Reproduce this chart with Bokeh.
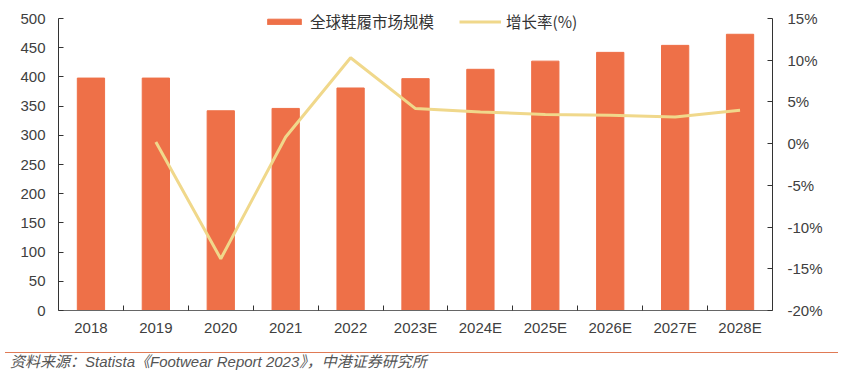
import numpy as np
from bokeh.plotting import figure
from bokeh.layouts import column
from bokeh.models import Range1d, LinearAxis, FixedTicker, PrintfTickFormatter, Div
from bokeh.embed import file_html
from bokeh.resources import INLINE

# ---- data ----
categories = ["2018", "2019", "2020", "2021", "2022", "2023E",
              "2024E", "2025E", "2026E", "2027E", "2028E"]
market_size = [398, 398, 342, 346, 381, 397, 413, 427, 442, 454, 473]
growth_pct = [None, 0.2, -13.8, 0.8, 10.3, 4.2, 3.8, 3.5, 3.4, 3.2, 4.0]
left_ticks = [0, 50, 100, 150, 200, 250, 300, 350, 400, 450, 500]
right_ticks = [-20, -15, -10, -5, 0, 5, 10, 15]
bar_label = "全球鞋履市场规模"
line_label = "增长率(%)"
source_text = "资料来源：Statista《Footwear Report 2023》，中港证券研究所"

BAR_COLOR = "#EE7048"
LINE_COLOR = "#F0D88B"
TEXT_COLOR = "#404040"
FONT = "Liberation Sans"

n = len(categories)
xc = np.arange(n) + 0.5

# frame is a little taller than the axes (room for the legend inside it)
left_lo, left_hi = left_ticks[0], left_ticks[-1]
right_lo, right_hi = right_ticks[0], right_ticks[-1]
extra = 302 / 292
p = figure(width=841, height=345, output_backend="svg", toolbar_location=None,
           x_range=Range1d(0, n),
           y_range=Range1d(left_lo, left_lo + (left_hi - left_lo) * extra),
           min_border_left=58, min_border_right=69, min_border_top=8,
           min_border_bottom=35)
p.extra_y_ranges = {"g": Range1d(right_lo, right_lo + (right_hi - right_lo) * extra)}
p.outline_line_color = None
p.xgrid.visible = False
p.ygrid.visible = False

p.vbar(x=xc, top=market_size, width=0.42, color=BAR_COLOR, legend_label=bar_label)
gx = [x for x, g in zip(xc, growth_pct) if g is not None]
gy = [g for g in growth_pct if g is not None]
p.line(gx, gy, y_range_name="g", line_color=LINE_COLOR, line_width=3,
       legend_label=line_label)

# x axis
xa = p.xaxis[0]
xa.ticker = FixedTicker(ticks=list(xc), minor_ticks=list(range(1, n)))
xa.major_label_overrides = {float(x): c for x, c in zip(xc, categories)}
xa.major_tick_in = 0
xa.major_tick_out = 0
xa.minor_tick_in = 5
xa.minor_tick_out = 0
xa.minor_tick_line_color = "#333333"
xa.axis_line_color = "#666666"
xa.major_label_standoff = 8

# left axis
ya = p.yaxis[0]
ya.ticker = FixedTicker(ticks=left_ticks)
ya.bounds = (left_lo, left_hi)
ya.minor_tick_line_color = None
ya.major_tick_in = 5
ya.major_tick_out = 0
ya.axis_line_color = "#333333"
ya.major_tick_line_color = "#333333"
ya.major_label_standoff = 13

ra = LinearAxis(y_range_name="g", ticker=FixedTicker(ticks=right_ticks),
                formatter=PrintfTickFormatter(format="%d%%"),
                bounds=(right_lo, right_hi))
ra.minor_tick_line_color = None
ra.major_tick_in = 5
ra.major_tick_out = 0
ra.axis_line_color = "#333333"
ra.major_tick_line_color = "#333333"
ra.major_label_standoff = 15
p.add_layout(ra, "right")

for ax in [xa, ya, ra]:
    ax.major_label_text_font = FONT
    ax.major_label_text_font_size = "15px"
    ax.major_label_text_color = TEXT_COLOR

lg = p.legend[0]
lg.orientation = "horizontal"
lg.location = (205, 278)
lg.border_line_color = None
lg.background_fill_alpha = 0
lg.glyph_width = 42
lg.glyph_height = 7
lg.label_standoff = 5
lg.spacing = 25
lg.padding = 0
lg.margin = 0
lg.label_text_font = "Noto Sans CJK SC"
lg.label_text_font_size = "15.5px"
lg.label_text_color = "#333333"

# footer (source note with separator line)
footer = Div(
    width=841, height=36,
    text=(
        '<div style="height:2px"></div>'
        '<div style="width:833px;border-top:1px solid #E07A55;"></div>'
        '<div style="padding-left:5px;line-height:18px;font-family:\'Liberation Sans\',\'Noto Sans CJK SC\';'
        'font-style:italic;font-size:15px;color:#555555;white-space:nowrap;">'
        + source_text + '</div>'
    ),
)

layout = column(p, footer, spacing=0)
open("out.html", "w").write(file_html(layout, INLINE))
